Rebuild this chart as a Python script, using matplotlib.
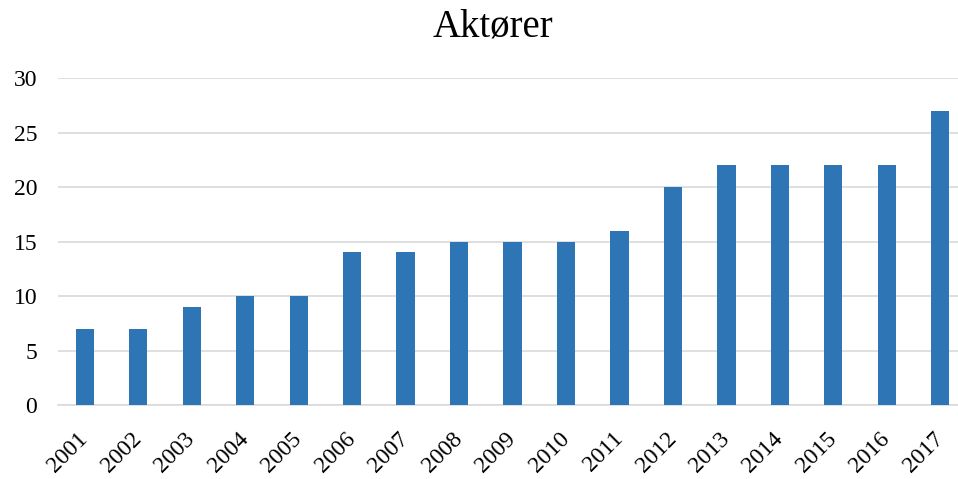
import matplotlib
matplotlib.use('Agg')
import matplotlib.pyplot as plt

# Data
years = ['2001', '2002', '2003', '2004', '2005', '2006', '2007', '2008', '2009',
         '2010', '2011', '2012', '2013', '2014', '2015', '2016', '2017']
actors = [7, 7, 9, 10, 10, 14, 14, 15, 15, 15, 16, 20, 22, 22, 22, 22, 27]
y_ticks = [0, 5, 10, 15, 20, 25, 30]

plt.rcParams['font.family'] = ['Liberation Serif', 'DejaVu Serif']

fig = plt.figure(figsize=(9.58, 4.79), dpi=100)
ax = fig.add_axes([0.0605, 0.1545, 0.949, 0.6825])

x = list(range(len(years)))
ax.bar(x, actors, width=0.34, color='#2E75B6', zorder=3)

ax.set_xlim(-0.5, len(years) - 0.5)
ax.set_ylim(0, 30)
ax.set_yticks(y_ticks)
ax.set_yticklabels([str(t) for t in y_ticks], fontsize=17)
ax.set_xticks(x)
ax.set_xticklabels(years, rotation=45, ha='right', va='center',
                   rotation_mode='anchor', fontsize=17)

ax.grid(axis='y', color='#d9d9d9', linewidth=1.2, zorder=0)
for side in ['top', 'right', 'left']:
    ax.spines[side].set_visible(False)
ax.spines['bottom'].set_color('#d9d9d9')
ax.spines['bottom'].set_linewidth(1.2)
ax.tick_params(axis='x', length=0, pad=22)
ax.tick_params(axis='y', length=0, pad=15)

fig.text(0.515, 1 - 37 / 479, 'Aktører', ha='center', va='baseline', fontsize=28)

plt.savefig('out.png', dpi=100)
plt.close()
